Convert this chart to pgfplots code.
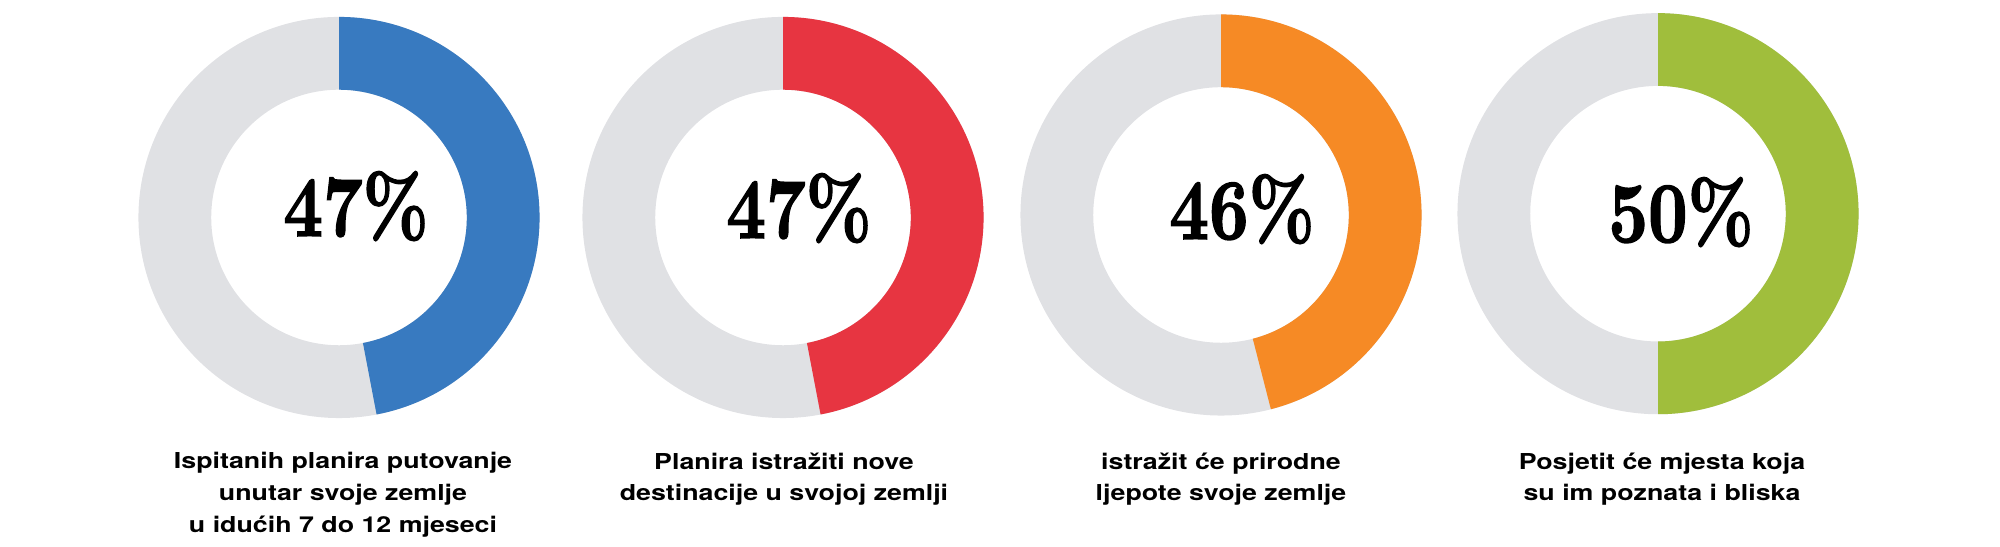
\documentclass[border=0pt]{standalone}
\usepackage{fontspec}
\usepackage{graphicx}
\usepackage{pgfplots}
\pgfplotsset{compat=1.18}
\usepackage{pgfplotstable}
\newfontfamily\lab[FakeStretch=1.22]{TeX Gyre Heros}
\newfontfamily\pctfont[FakeBold=1.8]{lmroman10-bold.otf}
\definecolor{ringgray}{HTML}{E0E1E4}
\definecolor{cblue}{HTML}{387AC0}
\definecolor{cred}{HTML}{E73541}
\definecolor{corange}{HTML}{F68A25}
\definecolor{cgreen}{HTML}{A0BE3C}
% data: value, centre x, centre y (pixels, bottom-up)
\pgfplotstableread{
v cx cy
47 339 329.5
47 783 329.5
46 1221 332
50 1658 333.3
}\donutdata
\def\Ro{72.2pt}
\def\Ri{46pt}
\newcommand\donut[4]{%
  \fill[ringgray, even odd rule] (axis cs:#1,#2) circle[radius=\Ro] (axis cs:#1,#2) circle[radius=\Ri];
  \fill[#4] ([shift={(90:\Ro)}]axis cs:#1,#2) arc[start angle=90, end angle={90-3.6*#3}, radius=\Ro]
     -- ([shift={({90-3.6*#3}:\Ri)}]axis cs:#1,#2) arc[start angle={90-3.6*#3}, end angle=90, radius=\Ri] -- cycle;
}
\newcommand\pct[3]{%
  \node[anchor=base, inner sep=0pt] at (axis cs:#1,#2) {\scalebox{0.8}[1]{\pctfont\fontsize{31}{31}\selectfont #3\%}};
}
\begin{document}
\begin{tikzpicture}
\begin{axis}[x=0.36pt, y=0.36pt, xmin=0, xmax=2000, ymin=0, ymax=547,
  hide axis, clip=false, scale only axis]
\addplot[draw=none, forget plot] coordinates {(0,0) (2000,547)};
\path (axis cs:0,0) rectangle (axis cs:2000,547);
\donut{339}{329.5}{47}{cblue}
\donut{783}{329.5}{47}{cred}
\donut{1221}{332}{46}{corange}
\donut{1658}{333.3}{50}{cgreen}
\pct{356}{311}{47}
\pct{799}{309}{47}
\pct{1242}{308}{46}
\pct{1681}{305}{50}
\begin{scope}[every node/.style={anchor=north, align=center, inner sep=0pt,
   font=\lab\bfseries\fontsize{7.9}{11.5}\selectfont}]
\node at (axis cs:343,95) {Ispitanih planira putovanje\\unutar svoje zemlje\\u idućih 7 do 12 mjeseci};
\node at (axis cs:784,95) {Planira istražiti nove\\destinacije u svojoj zemlji};
\node at (axis cs:1221,95) {istražit će prirodne\\ljepote svoje zemlje};
\node at (axis cs:1662,95) {Posjetit će mjesta koja\\su im poznata i bliska};
\end{scope}
\end{axis}
\end{tikzpicture}
\end{document}
